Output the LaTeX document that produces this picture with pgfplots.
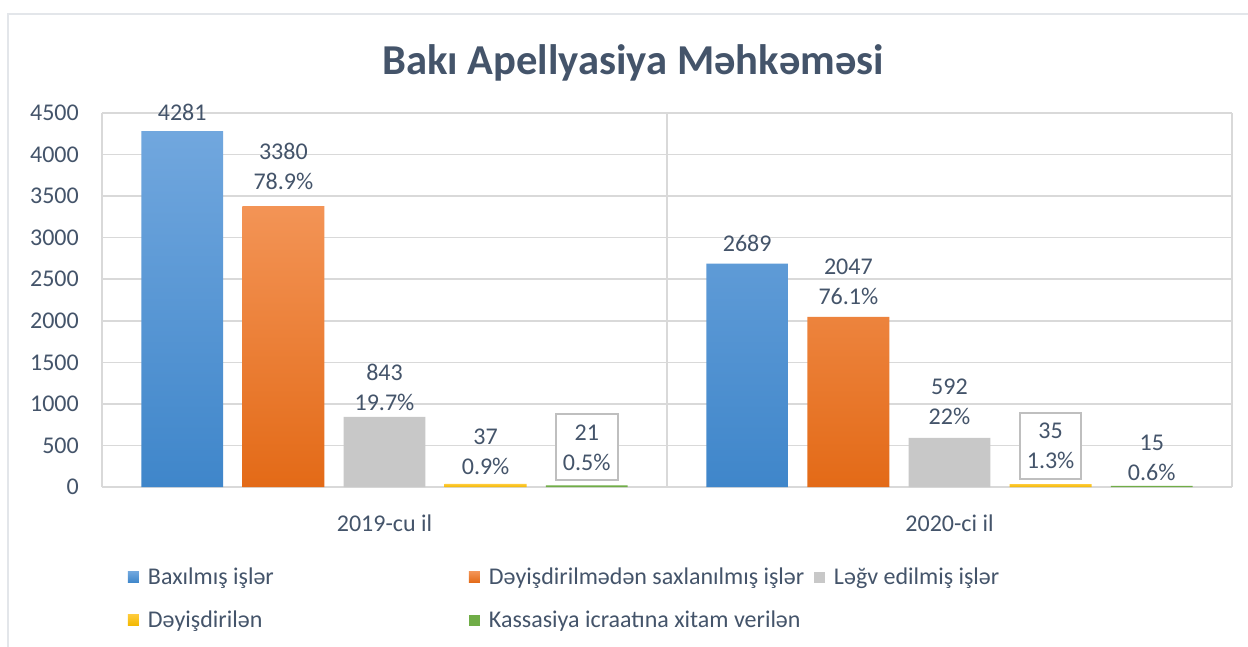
\documentclass[border=0pt]{standalone}
\usepackage{pgfplots}
\pgfplotsset{compat=1.18}
\usepackage{fontspec}
\setmainfont{Carlito}
\definecolor{txt}{HTML}{44546A}
\definecolor{gridc}{HTML}{D9D9D9}
\definecolor{frame}{HTML}{E3E6EA}
\definecolor{blueT}{HTML}{71A7DE}
\definecolor{blueB}{HTML}{3F86CA}
\definecolor{orT}{HTML}{F39456}
\definecolor{orB}{HTML}{E36A17}
\definecolor{grayF}{HTML}{C8C8C8}
\definecolor{yelT}{HTML}{FFCB3A}
\definecolor{yelB}{HTML}{F2B800}
\definecolor{greF}{HTML}{70AD47}
\definecolor{boxc}{HTML}{BFBFBF}
\begin{document}
\begin{tikzpicture}[x=1pt,y=1pt]
\useasboundingbox (0,0) rectangle (1248,646);
\fill[white] (0,0) rectangle (1248,646);
\draw[frame, line width=2.5pt] (1260,632) -- (8,632) -- (8,-10);
\node[font=\fontsize{42.6}{50}\selectfont\bfseries, text=txt] at (633,583) {Bakı Apellyasiya Məhkəməsi};
\begin{axis}[
  scale only axis, width=1130pt, height=374pt,
  at={(102pt,159pt)}, anchor=south west,
  xmin=-0.5, xmax=1.5, ymin=0, ymax=4500,
  ybar, bar width=0.145,
  axis line style={draw=none}, tick style={draw=none},
  xtick={0,1}, xticklabels={2019-cu il,2020-ci il},
  minor xtick={-0.5,0.5,1.5},
  ytick={0,500,...,4500},
  ymajorgrids, xminorgrids,
  major grid style={gridc, line width=1.6pt},
  minor grid style={gridc, line width=1.6pt},
  ticklabel style={font=\fontsize{24}{29}\selectfont, text=txt},
  /pgf/number format/assume math mode=true,
  /pgf/number format/1000 sep={},
  yticklabel style={inner sep=0pt, anchor=east, xshift=-23pt},
  xticklabel style={inner sep=0pt, anchor=base, yshift=-40.5pt},
  point meta=explicit symbolic,
  nodes near coords,
  visualization depends on={value \thisrow{off}\as\myoff},
  nodes near coords style={anchor=south, align=center, inner sep=0pt,
     font=\fontsize{24}{30}\selectfont, text=txt, yshift=\myoff pt},
  legend columns=3,
  legend image code/.code={\fill[#1,draw=none] (0pt,-5.5pt) rectangle (11pt,5.5pt);},
  legend style={draw=none, fill=none, inner sep=0pt, outer sep=0pt,
     at={(axis description cs:0.023,-0.218)}, anchor=north west,
     row sep=26pt,
     font=\fontsize{24}{29}\selectfont, text=txt,
     nodes={inner sep=0pt, text height=16pt, text depth=1pt},
     cells={anchor=west},
     /tikz/every odd column/.append style={column sep=9pt}},
]
\addplot[bar shift=-0.358, draw=none, top color=blueT, bottom color=blueB]
  table[x=x, y=y, meta=lab] {
x y lab off
0 4281 {4281} 10
1 2689 {2689} 12
};
\addlegendentry{\makebox[321pt][l]{Baxılmış işlər}}
\addplot[bar shift=-0.179, draw=none, top color=orT, bottom color=orB]
  table[x=x, y=y, meta=lab] {
x y lab off
0 3380 {3380\\78.9\%} 16
1 2047 {2047\\76.1\%} 12
};
\addlegendentry{\makebox[325pt][l]{Dəyişdirilmədən saxlanılmış işlər}}
\addplot[bar shift=0, draw=none, fill=grayF]
  table[x=x, y=y, meta=lab] {
x y lab off
0 843 {843\\19.7\%} 6
1 592 {592\\22\%} 13
};
\addlegendentry{Ləğv edilmiş işlər}
\addplot[bar shift=0.179, draw=none, top color=yelT, bottom color=yelB]
  table[x=x, y=y, meta=lab] {
x y lab off
0 37 {37\\0.9\%} 9
1 35 {} 0
};
\addlegendentry{\makebox[321pt][l]{Dəyişdirilən}}
\addplot[bar shift=0.358, draw=none, fill=greF]
  table[x=x, y=y, meta=lab] {
x y lab off
0 21 {} 0
1 15 {15\\0.6\%} 5
};
\addlegendentry{Kassasiya icraatına xitam verilən}
% boxed labels
\addplot[forget plot, bar shift=0.358, draw=none, fill=none,
  nodes near coords style={draw=boxc, line width=2pt, fill=white, inner xsep=7pt, inner ysep=10pt}]
  table[x=x, y=y, meta=lab] {
x y lab off
0 21 {21\\0.5\%} 4
};
\addplot[forget plot, bar shift=0.179, draw=none, fill=none,
  nodes near coords style={draw=boxc, line width=2pt, fill=white, inner xsep=7pt, inner ysep=10pt}]
  table[x=x, y=y, meta=lab] {
x y lab off
1 35 {35\\1.3\%} 4
};
\end{axis}
\end{tikzpicture}
\end{document}
